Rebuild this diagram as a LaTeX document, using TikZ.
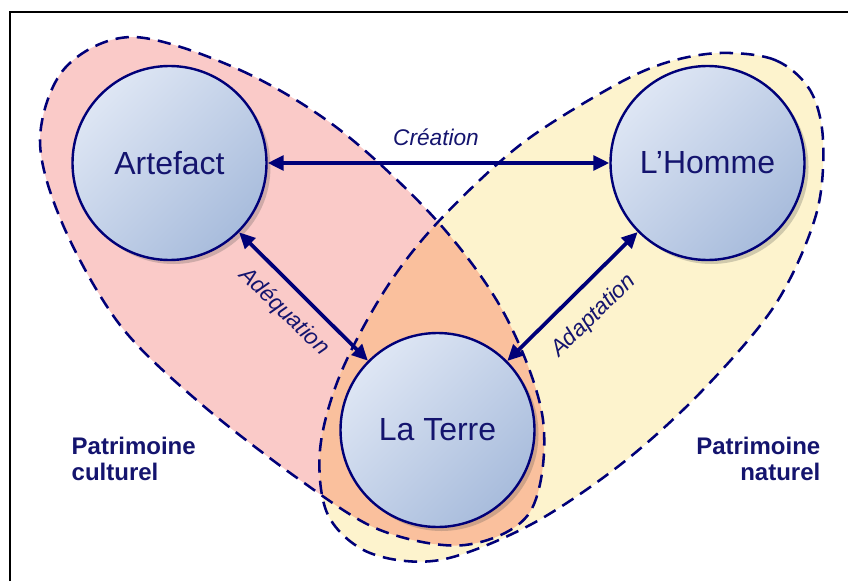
\documentclass[tikz,border=0pt]{standalone}
\usepackage{fontspec}
\setmainfont{Liberation Sans}
\usetikzlibrary{arrows.meta,shadows}
\definecolor{navy}{RGB}{0,0,120}
\definecolor{txtnavy}{RGB}{20,20,110}
\definecolor{pinkfill}{RGB}{250,202,200}
\definecolor{yellowfill}{RGB}{253,243,205}
\definecolor{orangefill}{RGB}{250,192,157}
\definecolor{circlight}{RGB}{222,230,244}
\definecolor{circdark}{RGB}{168,188,220}
\begin{document}
\begin{tikzpicture}[x=0.75pt,y=-0.75pt,
  region/.style={draw=navy,line width=1.9pt,dash pattern=on 10pt off 6pt},
  bubble/.style={circle,minimum size=145.5pt,inner sep=0pt,draw=navy,line width=1.8pt,
     top color=circlight,bottom color=circdark,shading angle=45,
     drop shadow={shadow xshift=3pt,shadow yshift=-3pt,opacity=0.25,fill=black!70},
     text=txtnavy,font=\fontsize{24}{28}\selectfont},
  link/.style={draw=navy,line width=2.8pt,{Triangle[length=12pt,width=11pt]}-{Triangle[length=12pt,width=11pt]}},
  lbl/.style={text=txtnavy,font=\fontsize{17}{20}\selectfont\itshape},
  patr/.style={text=txtnavy,font=\fontsize{18}{20}\selectfont\bfseries}]
\useasboundingbox (0,0) rectangle (848,581);
\def\pinkpath{plot[smooth cycle,tension=0.55] coordinates {(133,37) (240,70) (340,130) (438,222) (505,315) (543,420) (530,512) (465,545) (380,530) (300,480) (200,403) (120,325) (63,225) (40,140) (65,68)}}
\def\yellowpath{plot[smooth cycle,tension=0.55] coordinates {(720,53) (775,60) (810,90) (823,140) (816,215) (775,305) (700,393) (620,465) (530,525) (440,560) (370,553) (328,515) (320,450) (340,375) (385,290) (438,222) (520,145) (610,88) (665,63)}}
\fill[pinkfill] \pinkpath;
\fill[yellowfill] \yellowpath;
\begin{scope}
  \clip \pinkpath;
  \fill[orangefill] \yellowpath;
\end{scope}
\draw[region] \pinkpath;
\draw[region] \yellowpath;
\draw[black,line width=2pt] (10,581) -- (10,12) -- (848,12);
\node[bubble] (art) at (169.5,163) {Artefact};
\node[bubble] (hom) at (707.5,163) {L’Homme};
\node[bubble] (ter) at (437.5,430) {La Terre};
\draw[link] (art) -- (hom);
\draw[link] (art) -- (ter);
\draw[link] (hom) -- (ter);
\node[lbl] (cre) at (436,137) {Création};
\node[lbl,rotate=-44] (ade) at (284,312) {Adéquation};
\node[lbl,rotate=44] (ada) at (594,316) {Adaptation};
\node[patr,align=left,anchor=west] (pc) at (67,459) {Patrimoine\\culturel};
\node[patr,align=right,anchor=east] (pn) at (825,459) {Patrimoine\\naturel};
\end{tikzpicture}
\end{document}
